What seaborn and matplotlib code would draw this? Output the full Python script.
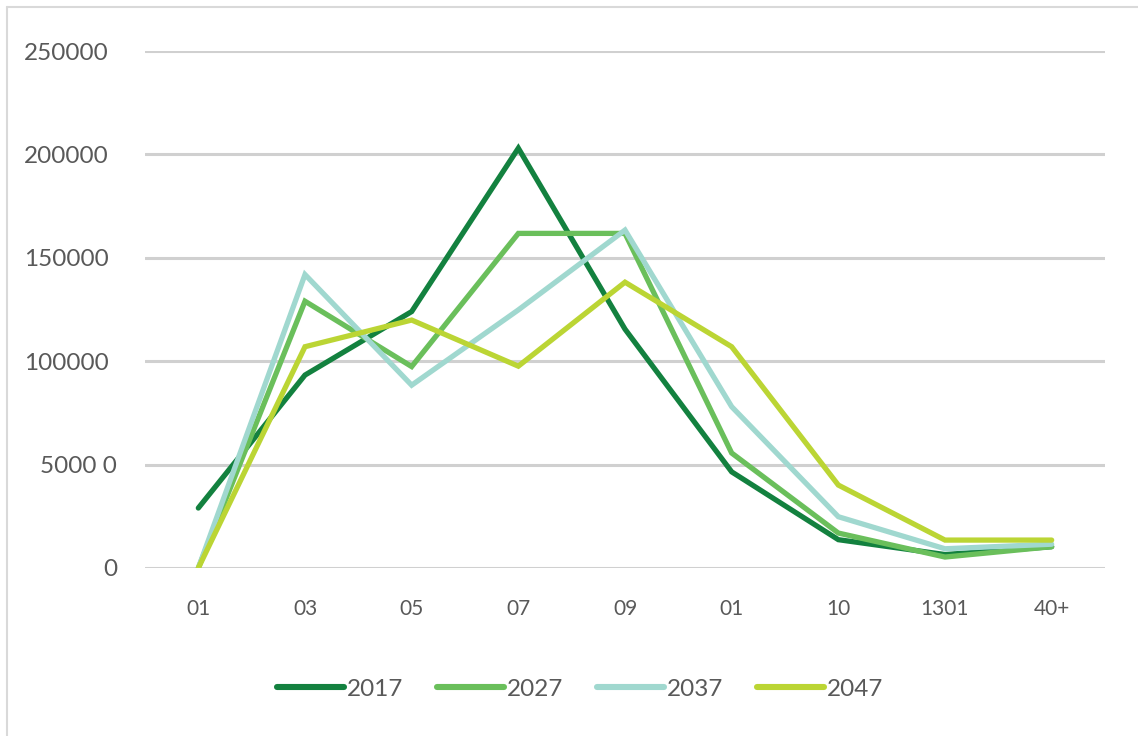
import matplotlib
matplotlib.use("Agg")
import matplotlib.pyplot as plt
import matplotlib.transforms as mtransforms
import seaborn as sns
import pandas as pd
from matplotlib.lines import Line2D

# Age-group labels along the x axis
age_labels = ["01", "03", "05", "07", "09", "01", "10", "1301", "40+"]

# Population per age group, by projection year
y2017 = [29000, 93300, 124000, 203000, 115500, 46500, 13700, 6500, 10300]
y2027 = [0, 129000, 97400, 161800, 161800, 55600, 16900, 5300, 10300]
y2037 = [0, 141900, 88400, 124800, 163400, 78000, 24800, 9300, 11500]
y2047 = [0, 107000, 119900, 97600, 138200, 107000, 40100, 13500, 13500]

years = ["2017", "2027", "2037", "2047"]
colors = ["#13813F", "#6ABF5B", "#A0D8CF", "#BBD534"]

y_ticks = [0, 50000, 100000, 150000, 200000, 250000]
y_tick_labels = ["0", "5000 0", "100000", "150000", "200000", "250000"]

series = {"2017": y2017, "2027": y2027, "2037": y2037, "2047": y2047}
df = pd.DataFrame(
    [(i, v, yr) for yr, vals in series.items() for i, v in enumerate(vals)],
    columns=["pos", "value", "year"],
)

sns.set_theme(style="white")
plt.rcParams["font.family"] = ["Lato", "DejaVu Sans"]

fig = plt.figure(figsize=(11.38, 7.36), dpi=100)
ax = fig.add_axes([145 / 1138, 168 / 736, 960 / 1138, 517 / 736])

sns.lineplot(
    data=df, x="pos", y="value", hue="year", hue_order=years,
    palette=colors, sort=False, linewidth=3.8, legend=False, ax=ax,
)
for ln in ax.get_lines():
    ln.set_solid_capstyle("round")
    ln.set_solid_joinstyle("miter")
    ln.set_zorder(3)

ax.set_xlim(-0.5, len(age_labels) - 0.5)
ax.set_ylim(0, 250000)
ax.set_xticks(range(len(age_labels)))
ax.set_xticklabels(age_labels, fontsize=15, color="#595959")
ax.set_yticks(y_ticks)
ax.set_yticklabels(y_tick_labels, fontsize=17.5, color="#595959")
ax.tick_params(axis="both", length=0)
ax.tick_params(axis="y", pad=26)
ax.tick_params(axis="x", pad=22)
ax.set_xlabel("")
ax.set_ylabel("")
for s in ax.spines.values():
    s.set_visible(False)
ax.yaxis.grid(True, color="#D0D0D0", linewidth=2.2)
ax.xaxis.grid(False)
ax.set_axisbelow(True)
ax.patch.set_alpha(0)

# The two lowest labels sit slightly further right
shift = mtransforms.ScaledTranslation(8 / 100, 0, fig.dpi_scale_trans)
for lbl in ax.get_yticklabels()[:2]:
    lbl.set_transform(lbl.get_transform() + shift)

handles = [Line2D([0], [0], color=c, linewidth=4.4, solid_capstyle="round") for c in colors]
leg = fig.legend(
    handles, years, loc="center", bbox_to_anchor=(580 / 1138, 1 - 689 / 736),
    ncol=4, frameon=False, fontsize=17.5, handlelength=2.75, handletextpad=0.12,
    columnspacing=1.4,
)
for t in leg.get_texts():
    t.set_color("#595959")

# Chart frame edges
fig.add_artist(Line2D([7 / 1138, 7 / 1138], [0, 1 - 7 / 736], transform=fig.transFigure,
                      color="#D9D9D9", linewidth=1.5))
fig.add_artist(Line2D([7 / 1138, 1], [1 - 7 / 736, 1 - 7 / 736], transform=fig.transFigure,
                      color="#D9D9D9", linewidth=1.5))

fig.savefig("out.png", dpi=100)
